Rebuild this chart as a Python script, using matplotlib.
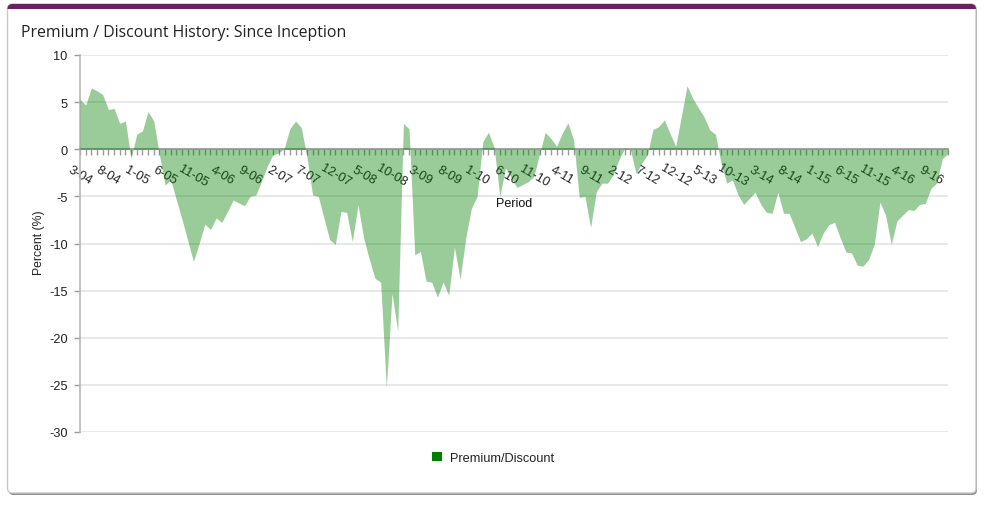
import numpy as np
import matplotlib
matplotlib.use("Agg")
from matplotlib import pyplot as plt
from matplotlib.patches import FancyBboxPatch, Rectangle, Patch

# Monthly premium / discount (%) starting 3-04
premium = [
    5.3, 4.7, 6.5, 6.2, 5.8, 4.2, 4.35, 2.75, 3.0, -1.0,
    1.6, 1.95, 4.0, 3.0, -0.6, -3.8, -3.25, -5.4, -7.5, -9.7,
    -11.9, -10.0, -7.95, -8.5, -7.3, -7.75, -6.6, -5.4, -5.7, -6.0,
    -5.0, -4.85, -3.4, -1.8, -0.6, -0.4, 0.1, 2.2, 3.0, 2.3,
    -0.8, -4.85, -5.0, -7.3, -9.6, -10.1, -6.6, -6.7, -9.8, -5.9,
    -9.4, -11.7, -13.7, -14.1, -25.3, -15.3, -19.3, 2.75, 2.15, -11.2,
    -10.85, -14.0, -14.1, -15.7, -14.1, -15.5, -10.4, -13.8, -9.4, -6.25,
    -5.0, 0.8, 1.8, 0.2, -5.0, -2.0, -3.0, -4.05, -3.75, -3.45,
    -2.9, -0.5, 1.8, 1.15, 0.3, 1.7, 2.8, 1.0, -5.1, -5.0,
    -8.3, -4.5, -3.6, -3.6, -2.7, -1.1, 0.1, 0.0, -2.55, -1.5,
    -0.6, 2.1, 2.4, 3.1, 1.7, 0.3, 3.5, 6.75, 5.4, 4.4,
    3.45, 2.05, 1.6, -1.5, -3.6, -3.25, -4.85, -5.85, -5.2, -4.55,
    -5.85, -6.7, -6.8, -4.55, -6.8, -6.8, -8.3, -9.8, -9.5, -8.9,
    -10.3, -8.9, -8.0, -7.75, -9.4, -10.9, -11.0, -12.3, -12.4, -11.7,
    -10.1, -5.6, -7.0, -10.1, -7.6, -7.0, -6.4, -6.5, -5.85, -5.75,
    -4.15, -3.6, -1.0, -0.45,
]

period_labels = [
    "3-04", "8-04", "1-05", "6-05", "11-05", "4-06", "9-06", "2-07",
    "7-07", "12-07", "5-08", "10-08", "3-09", "8-09", "1-10", "6-10",
    "11-10", "4-11", "9-11", "2-12", "7-12", "12-12", "5-13", "10-13",
    "3-14", "8-14", "1-15", "6-15", "11-15", "4-16", "9-16",
]
LABEL_STEP = 5

y_ticks = [10, 5, 0, -5, -10, -15, -20, -25, -30]

GREEN = "#008000"
PURPLE = "#6b2160"
TEXT = "#333333"

plt.rcParams["font.family"] = ["Liberation Sans", "DejaVu Sans"]

fig = plt.figure(figsize=(9.84, 5.06), dpi=100)
fig.patch.set_facecolor("white")

# Card background, drawn in pixel coordinates
bg = fig.add_axes([0, 0, 1, 1])
bg.set_xlim(0, 984)
bg.set_ylim(506, 0)
bg.axis("off")

bg.add_patch(FancyBboxPatch((8.5, 6.5), 968.5, 489.5,
                            boxstyle="round,pad=0,rounding_size=5",
                            fc="#8f8f8f", ec="none"))
bg.add_patch(FancyBboxPatch((7.5, 5), 968.5, 489,
                            boxstyle="round,pad=0,rounding_size=5",
                            fc="white", ec="#c8c8c8", lw=1))
top_bar = FancyBboxPatch((7.5, 5), 968.5, 20,
                         boxstyle="round,pad=0,rounding_size=5",
                         fc=PURPLE, ec="none")
bg.add_patch(top_bar)
top_bar.set_clip_path(Rectangle((0, 0), 984, 9.5, transform=bg.transData))

fig.text(21 / 984, 1 - 33 / 506, "Premium / Discount History: Since Inception",
         family=["Open Sans", "DejaVu Sans"], fontsize=11.4, color="#222222",
         ha="left", va="center")

# Main chart
ax = fig.add_axes([80 / 984, 73 / 506, 868 / 984, 377 / 506])
ax.patch.set_alpha(0)

x = np.arange(len(premium))
vals = np.array(premium)
ax.fill_between(x, vals, 0, color=GREEN, alpha=0.4, lw=0, zorder=1)

ax.set_xlim(0, len(premium) - 1)
ax.set_ylim(-30, 10)

ax.set_axisbelow(True)
ax.yaxis.grid(True, color="#e4e4e4", lw=1.2)
ax.xaxis.grid(False)

for side in ["top", "right"]:
    ax.spines[side].set_visible(False)
ax.spines["bottom"].set_position(("data", 0))
ax.spines["bottom"].set_color("#9a9a9a")
ax.spines["bottom"].set_linewidth(1.3)
ax.spines["bottom"].set_zorder(0.6)
ax.spines["left"].set_color("#b8b8b8")
ax.spines["left"].set_linewidth(1.2)
ax.spines["left"].set_zorder(0.6)

ax.set_xticks(np.arange(0, len(period_labels) * LABEL_STEP, LABEL_STEP))
ax.set_xticklabels(period_labels, rotation=-30, ha="center", va="center",
                   rotation_mode="anchor", fontsize=9.2, color="#222222")
ax.set_xticks(x, minor=True)
ax.tick_params(axis="x", which="both", direction="out", length=4, width=1,
               color="#9a9a9a", pad=14.5)

ax.set_yticks(y_ticks)
ax.set_yticklabels([str(v) for v in y_ticks], fontsize=9.2, color="#222222")
ax.tick_params(axis="y", direction="out", length=4, width=1, color="#9a9a9a", pad=5)

fig.text(514 / 984, 1 - 204 / 506, "Period", fontsize=9, color="#111111",
         ha="center", va="center")
fig.text(39 / 984, 1 - 243 / 506, "Percent (%)", fontsize=8.8, color="#222222",
         ha="center", va="center", rotation=90)

ax.legend(handles=[Patch(facecolor=GREEN, edgecolor="none")],
          labels=["Premium/Discount"], loc="center",
          bbox_to_anchor=(493 / 984, 1 - 459 / 506), bbox_transform=fig.transFigure,
          frameon=False, fontsize=9.2, handlelength=0.75, handleheight=0.75,
          handletextpad=0.6, labelcolor="#222222")

fig.savefig("out.png", dpi=100, facecolor="white")
